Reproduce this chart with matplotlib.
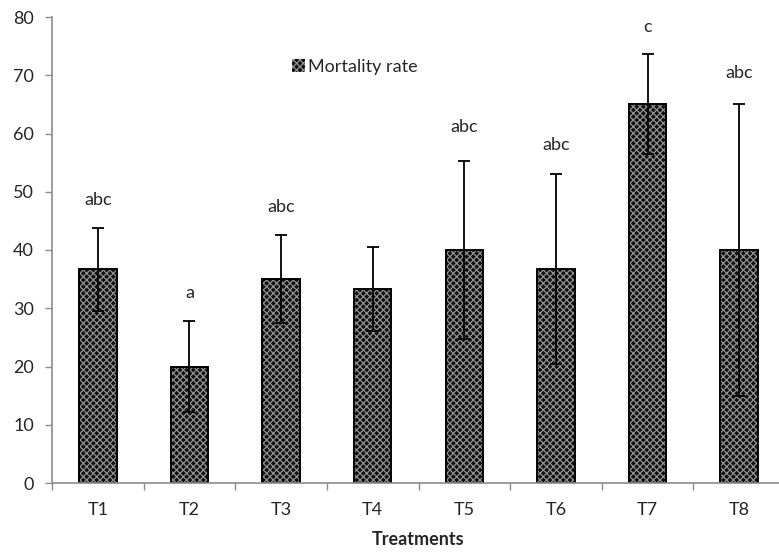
import numpy as np
import matplotlib
matplotlib.use("Agg")
import matplotlib.pyplot as plt

# data
treatments = ["T1", "T2", "T3", "T4", "T5", "T6", "T7", "T8"]
mortality = [36.7, 20.0, 35.0, 33.3, 40.0, 36.7, 65.0, 40.0]
errors = [7.1, 7.8, 7.6, 7.2, 15.2, 16.3, 8.6, 25.0]
letters = ["abc", "a", "abc", "", "abc", "abc", "c", "abc"]
letter_y = [48.6, 32.6, 47.4, 0, 61.1, 58.0, 78.3, 70.4]

plt.rcParams['font.family'] = ['Lato', 'DejaVu Sans']
plt.rcParams['hatch.linewidth'] = 0.9

fig = plt.figure(figsize=(7.79, 5.53), dpi=100)
ax = fig.add_axes([52 / 779, 70 / 553, 733 / 779, 466 / 553])

x = np.arange(len(treatments))
# dark fill with light cross hatch, then black outline on top
ax.bar(x, mortality, width=0.41, color="#101010", edgecolor="#909090",
       hatch="xxxxx", linewidth=0, label="Mortality rate")
ax.bar(x, mortality, width=0.41, fill=False, edgecolor="black", linewidth=1.4)
ax.errorbar(x, mortality, yerr=errors, fmt="none", ecolor="black",
            elinewidth=1.3, capsize=4, capthick=1.3)

for xi, lab, ly in zip(x, letters, letter_y):
    if lab:
        ax.text(xi, ly, lab, ha="center", va="center", fontsize=13, color="#262626")

ax.set_xlim(-0.5, len(treatments) - 0.5)
ax.set_ylim(0, 80)
ax.set_yticks(np.arange(0, 81, 10))
ax.set_xticks(x)
ax.set_xticklabels(treatments)
ax.set_xticks(np.arange(-0.5, len(treatments), 1), minor=True)
ax.tick_params(axis="x", which="major", length=0, pad=14, labelsize=13, labelcolor="#262626")
ax.tick_params(axis="x", which="minor", length=5, width=1, color="#8c8c8c")
ax.tick_params(axis="y", length=5, width=1, color="#8c8c8c", pad=8, labelsize=13, labelcolor="#262626")

for side in ["top", "right"]:
    ax.spines[side].set_visible(False)
for side in ["left", "bottom"]:
    ax.spines[side].set_color("#8c8c8c")
    ax.spines[side].set_linewidth(1.2)

ax.set_xlabel("Treatments", fontsize=13, fontweight="bold", color="#262626", labelpad=9)

handles, labels = ax.get_legend_handles_labels()
fig.legend(handles[:1], labels[:1], loc="center left", bbox_to_anchor=(276 / 779, 1 - 67 / 553),
           frameon=False, fontsize=13, handlelength=0.7, handleheight=0.7, handletextpad=0.2,
           labelcolor="#262626")

fig.savefig("out.png", dpi=100)
